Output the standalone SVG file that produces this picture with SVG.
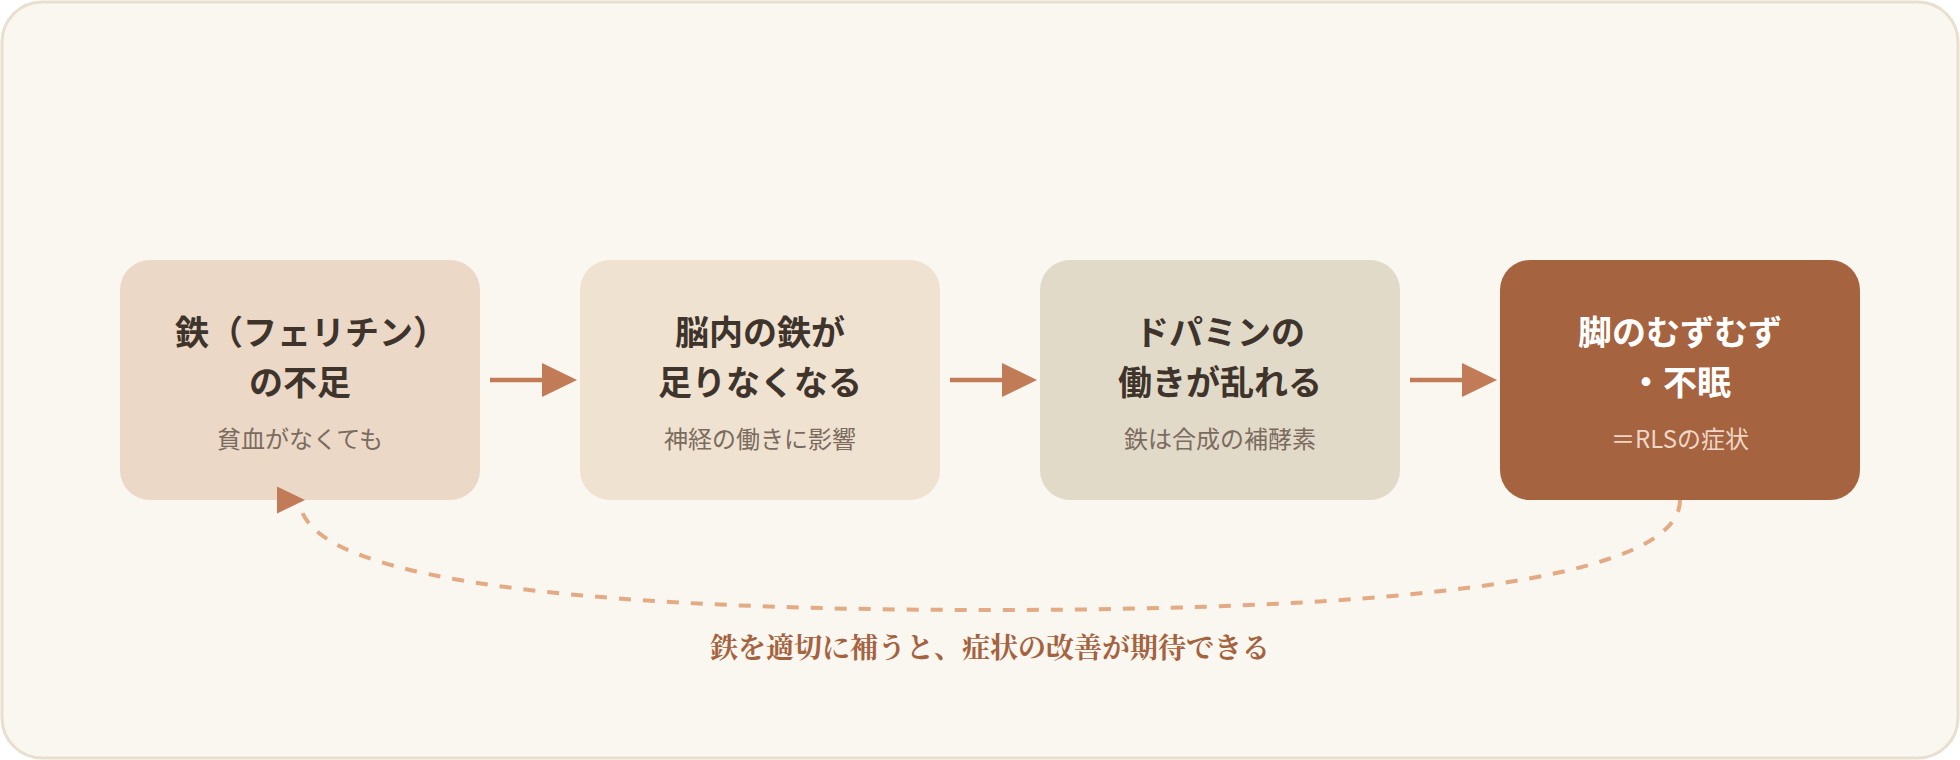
<svg xmlns="http://www.w3.org/2000/svg" width="1960" height="760" viewBox="0 0 1960 760">
  <style>
    .title { font-family: "Noto Sans CJK JP", "Noto Sans", sans-serif; font-size: 34px; font-weight: 700; fill: #3e342c; text-anchor: middle; }
    .sub { font-family: "Noto Sans CJK JP", "Noto Sans", sans-serif; font-size: 24px; font-weight: 400; fill: #7a6b5e; text-anchor: middle; }
    .dark .title { fill: #ffffff; }
    .dark .sub { fill: #f0d6c6; }
    .flow { stroke: #c17b56; stroke-width: 4.5; fill: none; }
    .loop { stroke: #e3aa84; stroke-width: 4; fill: none; stroke-dasharray: 12 12; }
    .note { font-family: "Noto Serif CJK JP", "Noto Serif", serif; font-size: 28px; font-weight: 700; fill: #a5623e; text-anchor: middle; }
  </style>
  <defs>
    <marker id="arrow" markerUnits="userSpaceOnUse" markerWidth="35" markerHeight="34" viewBox="0 0 35 34" refX="0" refY="17" orient="auto">
      <path d="M0,0 L35,17 L0,34 Z" fill="#c17b56"/>
    </marker>
    <marker id="loopArrow" markerUnits="userSpaceOnUse" markerWidth="28" markerHeight="27" viewBox="0 0 28 27" refX="23" refY="13.5">
      <path d="M0,0 L28,13.5 L0,27 Z" fill="#c17b56"/>
    </marker>
  </defs>

  <rect id="background" x="2" y="2" width="1956" height="756" rx="40" fill="#faf6f0" stroke="#e8dfd0" stroke-width="3"/>

  <g id="node1">
    <rect x="120" y="260" width="360" height="240" rx="30" fill="#ebd8c7"/>
    <text class="title" x="311" y="345">鉄（フェリチン）</text>
    <text class="title" x="300" y="395">の不足</text>
    <text class="sub" x="300" y="448">貧血がなくても</text>
  </g>

  <g id="node2">
    <rect x="580" y="260" width="360" height="240" rx="30" fill="#efe2d0"/>
    <text class="title" x="760" y="345">脳内の鉄が</text>
    <text class="title" x="760" y="395">足りなくなる</text>
    <text class="sub" x="760" y="448">神経の働きに影響</text>
  </g>

  <g id="node3">
    <rect x="1040" y="260" width="360" height="240" rx="30" fill="#e2dac8"/>
    <text class="title" x="1220" y="345">ドパミンの</text>
    <text class="title" x="1220" y="395">働きが乱れる</text>
    <text class="sub" x="1220" y="448">鉄は合成の補酵素</text>
  </g>

  <g id="node4" class="dark">
    <rect x="1500" y="260" width="360" height="240" rx="30" fill="#a5633f"/>
    <text class="title" x="1680" y="345">脚のむずむず</text>
    <text class="title" x="1680" y="395">・不眠</text>
    <text class="sub" x="1680" y="448">＝RLSの症状</text>
  </g>

  <g id="connectors">
    <line class="flow" x1="490" y1="380" x2="542" y2="380" marker-end="url(#arrow)"/>
    <line class="flow" x1="950" y1="380" x2="1002" y2="380" marker-end="url(#arrow)"/>
    <line class="flow" x1="1410" y1="380" x2="1462" y2="380" marker-end="url(#arrow)"/>
    <path class="loop" d="M1680,500 C1680,580 1400,610 990,610 S300,580 300,500" marker-end="url(#loopArrow)"/>
  </g>

  <text id="loop-label" class="note" x="990" y="658">鉄を適切に補うと、症状の改善が期待できる</text>
</svg>
